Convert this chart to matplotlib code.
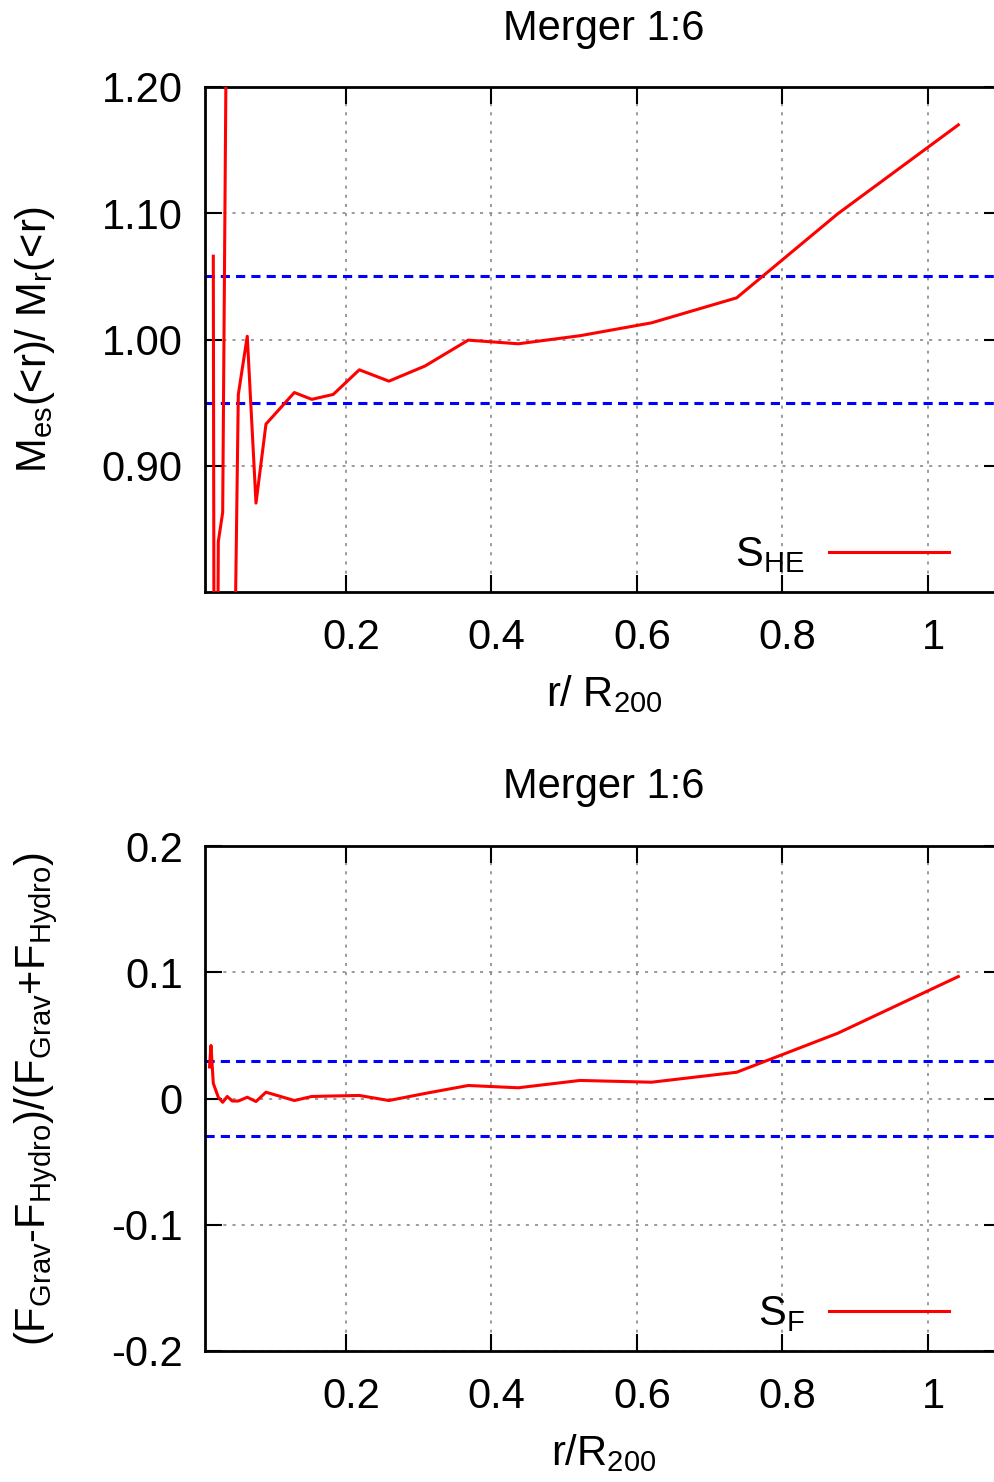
import numpy as np
import matplotlib
matplotlib.use('Agg')
import matplotlib.pyplot as plt
import matplotlib.transforms as mtransforms

plt.rcParams['font.family'] = ['Liberation Sans', 'DejaVu Sans']
plt.rcParams['mathtext.fontset'] = 'custom'
plt.rcParams['mathtext.rm'] = 'Liberation Sans'
plt.rcParams['mathtext.it'] = 'Liberation Sans'
plt.rcParams['font.size'] = 30

# Dane
r_top = [0.0176, 0.0200, 0.0245, 0.0305, 0.0368, 0.0453, 0.0520, 0.0643, 0.0763,
         0.0900, 0.1290, 0.1530, 0.1825, 0.2183, 0.2590, 0.3086, 0.3680, 0.4368,
         0.5216, 0.6200, 0.7370, 0.8760, 1.0417]
s_he = [1.066, 0.30, 0.840, 0.863, 1.35, 0.67, 0.9565, 1.0026, 0.8704,
        0.933, 0.958, 0.9526, 0.9565, 0.976, 0.967, 0.979, 0.9995, 0.9966,
        1.003, 1.0132, 1.033, 1.0996, 1.170]

r_bot = [0.0124, 0.0144, 0.0176, 0.0245, 0.0305, 0.0368, 0.0437, 0.0520, 0.0643,
         0.0763, 0.0900, 0.1290, 0.1530, 0.1825, 0.2183, 0.2590, 0.3086, 0.3680,
         0.4368, 0.5216, 0.6200, 0.7370, 0.8760, 1.0417]
s_f = [0.025, 0.042, 0.012, 0.001, -0.003, 0.0016, -0.002, -0.002, 0.001,
       -0.0024, 0.005, -0.0016, 0.0016, 0.002, 0.0024, -0.0016, 0.004, 0.0103,
       0.0085, 0.0143, 0.0129, 0.0208, 0.0517, 0.0966]

he_band = [0.95, 1.05]
f_band = [-0.03, 0.03]

x_ticks = [0.2, 0.4, 0.6, 0.8, 1.0]
x_labels = ['0.2', '0.4', '0.6', '0.8', '1']
y_ticks_top = [0.9, 1.0, 1.1, 1.2]
y_labels_top = ['0.90', '1.00', '1.10', '1.20']
y_ticks_bot = [-0.2, -0.1, 0.0, 0.1, 0.2]
y_labels_bot = ['-0.2', '-0.1', '0', '0.1', '0.2']


def gnuplot_clip(x, y, lo, hi):
    '''Przerwa w linii tam, gdzie oba punkty odcinka sa poza zakresem (jak w gnuplocie)'''
    xs, ys = [], []
    for i in range(len(x)):
        if i > 0:
            poza1 = not (lo <= y[i - 1] <= hi)
            poza2 = not (lo <= y[i] <= hi)
            if poza1 and poza2:
                xs.append(np.nan)
                ys.append(np.nan)
        xs.append(x[i])
        ys.append(y[i])
    return xs, ys


fig = plt.figure(figsize=(9.95, 14.82), dpi=100)
W, H = 995.0, 1482.0
left = 205 / W
width = (1000.75 - 205) / W
ax1 = fig.add_axes([left, 1 - 592 / H, width, (592 - 87) / H])
ax2 = fig.add_axes([left, 1 - 1351 / H, width, (1351 - 846) / H])

# przesuniecie etykiet osi x w prawo, jak w gnuplocie
przes = mtransforms.ScaledTranslation(5 / 100, 0, fig.dpi_scale_trans)


def styl(ax, ylo, yhi, yt, yl):
    ax.set_xlim(0.0062, 1.1)
    ax.set_ylim(ylo, yhi)
    ax.set_xticks(x_ticks)
    ax.set_xticklabels(x_labels)
    ax.set_yticks(yt)
    ax.set_yticklabels(yl)
    ax.tick_params(direction='in', length=12, width=1.5, top=True, right=True,
                   labelsize=30)
    ax.tick_params(axis='y', pad=16)
    ax.tick_params(axis='x', pad=19)
    for lab in ax.get_xticklabels():
        lab.set_transform(lab.get_transform() + przes)
    for s in ax.spines.values():
        s.set_linewidth(2)
    ax.grid(True, color='#808080', linestyle=(0, (2, 4)), linewidth=1.1)


styl(ax1, 0.8, 1.2, y_ticks_top, y_labels_top)
styl(ax2, -0.2, 0.2, y_ticks_bot, y_labels_bot)

for v in he_band:
    ax1.axhline(v, color='#0000ff', linewidth=2.2, dashes=(3.0, 2.0), zorder=2)
for v in f_band:
    ax2.axhline(v, color='#0000ff', linewidth=2.2, dashes=(3.0, 2.0), zorder=2)

xs, ys = gnuplot_clip(r_top, s_he, 0.8, 1.2)
ax1.plot(xs, ys, color='red', linewidth=2.2, label=r'S$_{\rm HE}$', zorder=3)
xs, ys = gnuplot_clip(r_bot, s_f, -0.2, 0.2)
ax2.plot(xs, ys, color='red', linewidth=2.2, label=r'S$_{\rm F}$', zorder=3)

for ax in (ax1, ax2):
    ax.legend(loc='lower right', bbox_to_anchor=(1 - 35 / 795.75, 0.0),
              frameon=False, markerfirst=False, fontsize=30,
              handlelength=2.87, handletextpad=0.6, borderaxespad=0.0,
              borderpad=0.4)

fig.text(604 / W, 1 - 40 / H, 'Merger 1:6', ha='center', va='baseline', fontsize=30)
fig.text(604 / W, 1 - 798 / H, 'Merger 1:6', ha='center', va='baseline', fontsize=30)

ax1.set_xlabel(r'r/ R$_{\rm 200}$', fontsize=30)
ax2.set_xlabel(r'r/R$_{\rm 200}$', fontsize=30)
ax1.set_ylabel(r'M$_{\rm es}$(<r)/ M$_{\rm r}$(<r)', fontsize=30, va='center')
ax2.set_ylabel(r'(F$_{\rm Grav}$-F$_{\rm Hydro}$)/(F$_{\rm Grav}$+F$_{\rm Hydro}$)',
               fontsize=30, va='center')
ax1.yaxis.set_label_coords((35 - 205) / 795.75, 0.5)
ax2.yaxis.set_label_coords((36 - 205) / 795.75, 0.5)
ax1.xaxis.set_label_coords((604 - 205) / 795.75, -(673 - 592) / 505.0)
ax2.xaxis.set_label_coords((604 - 205) / 795.75, -(1432 - 1351) / 505.0)

fig.savefig('out.png', dpi=100)
